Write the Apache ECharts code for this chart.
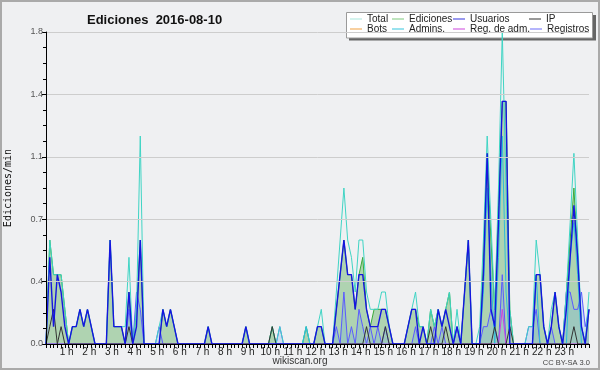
<!DOCTYPE html>
<html><head><meta charset="utf-8">
<script src="https://cdn.jsdelivr.net/npm/echarts@6/dist/echarts.min.js"></script>
<style>html,body{margin:0;padding:0;background:#eff0f2}#c{width:600px;height:370px}</style>
</head><body><div id="c"></div>
<script>
// 10-minute bins, 0 h .. 24 h (145 points)
const total = [
 0,.6,.4,.4,.4,.2,0,.1,.1,.2,.1,.2,
 .1,0,0,0,0,.6,.1,.1,.1,.1,.5,0,
 .2,1.2,0,0,0,0,.1,.2,.1,.2,.1,0,
 0,0,0,0,0,0,0,.1,0,0,0,0,
 0,0,0,0,0,.1,0,0,0,0,0,0,
 .1,0,.1,0,0,0,0,0,0,.1,0,0,
 .1,.2,0,0,0,.3,.6,.9,.6,.5,.3,.6,
 .6,.3,.2,.2,.2,.3,.3,.1,0,0,0,0,
 .1,.2,.3,.1,.1,0,.2,.1,.2,.1,.2,.3,
 0,.2,0,.3,.6,0,0,.1,.6,1.2,.7,.2,
 .9,1.8,.9,.2,0,0,0,0,.1,.1,.6,.4,
 .1,0,.2,.3,.1,0,.3,.7,1.1,.6,.1,0,
 .3];
const ediciones = [
 0,.6,.4,.4,.4,.2,0,.1,.1,.2,.1,.2,
 .1,0,0,0,0,.6,.1,.1,.1,0,.3,0,
 .2,.6,0,0,0,0,0,.2,.1,.2,.1,0,
 0,0,0,0,0,0,0,.1,0,0,0,0,
 0,0,0,0,0,.1,0,0,0,0,0,0,
 .1,0,0,0,0,0,0,0,0,.1,0,0,
 .1,.1,0,0,0,.2,.4,.6,.4,.4,.2,.4,
 .5,.2,.1,.2,.2,.2,.2,.1,0,0,0,0,
 .1,.2,.2,.1,.1,0,.2,.1,.2,.1,.2,.3,
 0,.1,0,.3,.6,0,0,0,.5,1.1,.6,.2,
 .8,1.4,1.4,.2,0,0,0,0,0,0,.4,.4,
 .1,0,.1,.3,.1,0,.3,.6,.9,.5,.1,0,
 .2];
const usuarios = [
 0,.5,.1,.4,.3,.1,0,.1,.1,.2,.1,.2,
 .1,0,0,0,0,.6,.1,.1,.1,0,.3,0,
 .1,.6,0,0,0,0,0,.2,.1,.2,.1,0,
 0,0,0,0,0,0,0,.1,0,0,0,0,
 0,0,0,0,0,.1,0,0,0,0,0,0,
 0,0,0,0,0,0,0,0,0,0,0,0,
 .1,.1,0,0,0,.2,.4,.6,.4,.4,.2,.4,
 .4,.2,.1,.1,.1,.2,.2,.1,0,0,0,0,
 .1,.2,.2,0,.1,0,0,0,.2,.1,.2,.1,
 0,.1,0,.3,.6,0,0,0,.4,1.1,.2,.1,
 .7,1.4,1.4,0,0,0,0,0,0,0,.4,.4,
 .1,0,.1,.3,.1,0,.2,.5,.8,.5,.1,0,
 .2];
const ip = [
 0,.1,.2,0,.1,0,0,0,0,0,0,0,
 0,0,0,0,0,0,0,0,0,0,.1,0,
 0,0,0,0,0,0,0,0,0,0,0,0,
 0,0,0,0,0,0,0,0,0,0,0,0,
 0,0,0,0,0,0,0,0,0,0,0,0,
 .1,0,0,0,0,0,0,0,0,0,0,0,
 0,0,0,0,0,0,0,0,0,0,0,0,
 0,.1,0,0,0,0,.1,0,0,0,0,0,
 0,0,0,0,0,0,.1,0,0,0,.1,0,
 0,0,0,0,0,0,0,0,0,0,0,.1,
 0,0,0,.1,0,0,0,0,0,0,0,0,
 0,0,0,0,0,0,0,0,.1,0,0,0,
 0];
const bots = [];
const admins = [
 0,0,0,0,0,0,0,0,0,0,0,0,
 0,0,0,0,0,0,0,0,0,0,0,0,
 0,0,0,0,0,0,0,0,0,0,0,0,
 0,0,0,0,0,0,0,0,0,0,0,0,
 0,0,0,0,0,0,0,0,0,0,0,0,
 0,0,0,0,0,0,0,0,0,.1,0,0,
 0,0,0,0,0,0,0,0,0,0,0,0,
 0,0,0,0,0,0,0,0,0,0,0,0,
 0,0,0,0,0,0,0,0,0,0,0,0,
 0,0,0,0,0,0,0,0,.3,.9,.4,0,
 .5,1.2,.3,0,0,0,0,0,0,0,.4,0,
 0,0,0,0,0,0,0,.5,.7,.4,0,0,
 0];
const regAdm = [
 0,0,0,0,0,0,0,0,0,0,0,0,
 0,0,0,0,0,0,0,0,0,0,0,0,
 0,0,0,0,0,0,0,0,0,0,0,0,
 0,0,0,0,0,0,0,0,0,0,0,0,
 0,0,0,0,0,0,0,0,0,0,0,0,
 0,0,0,0,0,0,0,0,0,0,0,0,
 0,0,0,0,0,0,0,0,0,0,0,0,
 0,0,0,0,0,0,0,0,0,0,0,0,
 0,0,0,0,0,0,0,0,0,0,0,0,
 0,0,0,0,0,0,0,0,0,0,0,0,
 0,.2,0,0,0,0,0,0,0,0,0,0,
 0,0,0,0,0,0,0,0,0,0,0,0,
 0];
const registros = [
 0,0,0,0,0,0,0,0,0,0,0,0,
 0,0,0,0,0,0,0,0,0,0,.2,0,
 .3,.2,0,0,0,0,.1,0,0,0,0,0,
 0,0,0,0,0,0,0,0,0,0,0,0,
 0,0,0,0,0,0,0,0,0,0,0,0,
 0,0,.1,0,0,0,0,0,0,0,0,0,
 0,0,0,0,0,.1,0,.3,0,.1,0,.2,
 .1,0,.1,0,.1,0,.1,0,0,0,0,0,
 0,0,.1,0,0,0,0,.1,0,.1,0,0,
 0,.1,0,0,0,0,0,0,.1,.1,.2,.1,
 0,.4,0,0,0,0,0,0,.1,.1,.2,0,
 0,0,.1,0,0,0,.3,.3,.2,.2,.3,.1,
 .2];
const yTicks = ['0.0','0.4','0.7','1.1','1.4','1.8'];
const hourSuffix = ' h';
const legendRow1 = ['Total','Ediciones','Usuarios','IP'];
const legendRow2 = ['Bots','Admins.','Reg. de adm.','Registros'];

const chart = echarts.init(document.getElementById('c'), null, {renderer:'canvas'});
const pts = a => a.map((v,i)=>[i/6, v]);
function line(name, arr, color, width, area, z){
  const s = {name, type:'line', data:pts(arr), showSymbol:false, symbol:'none',
    lineStyle:{color, width}, itemStyle:{color}, z, animation:false};
  if (area) s.areaStyle = {color: area, origin:'start'};
  return s;
}
const F = 'Liberation Sans, Arial, sans-serif';
const legendColor = {'Total':'#a8e6dc','Ediciones':'#7cc87c','Usuarios':'#3333dd','IP':'#333333',
  'Bots':'#f0a040','Admins.':'#33c4dc','Reg. de adm.':'#cc44dd','Registros':'#6a6af8'};
const colW = [25,44,59,40];
function legendRow(names, top){
  return {left:350, top, width:300, padding:0, itemGap:0, orient:'horizontal',
    icon:'rect', itemWidth:12, itemHeight:1,
    textStyle:{fontFamily:F, fontSize:10, color:'#222', lineHeight:10, overflow:'none'},
    data: names.map((n,k)=>({name:n, itemStyle:{color:legendColor[n]}, textStyle:{width:colW[k]}}))};
}
chart.setOption({
  backgroundColor:'#eff0f2',
  animation:false,
  title:{text:'Ediciones  2016-08-10', left:82, top:9,
    textStyle:{fontFamily:'Liberation Sans, Arial, sans-serif', fontSize:13, fontWeight:'bold', color:'#111'}},
  legend:[legendRow(legendRow1, 14), legendRow(legendRow2, 24)],
  grid:{left:46, right:11, top:32, bottom:26, outerBoundsMode:'none', containLabel:false},
  xAxis:{type:'value', min:0, max:24, interval:1, z:10,
    axisLine:{show:true, lineStyle:{color:'#000', width:1}},
    axisTick:{show:true, length:4, lineStyle:{color:'#000'}},
    minorTick:{show:true, splitNumber:6, length:4, lineStyle:{color:'#000'}},
    splitLine:{show:false},
    axisLabel:{margin:3, fontFamily:F, fontSize:10, color:'#222', padding:[0,4,0,0],
      formatter:v => (v>0 && v<24) ? v + hourSuffix : ''}
  },
  yAxis:{type:'value', min:0, max:1.8, interval:0.36, z:10,
    name:'Ediciones/min', nameLocation:'middle', nameRotate:90, nameGap:33,
    nameTextStyle:{fontFamily:'DejaVu Sans Mono, monospace', fontSize:10, color:'#111'},
    axisLine:{show:true, lineStyle:{color:'#000', width:1}},
    axisTick:{show:true, length:4, lineStyle:{color:'#000'}},
    minorTick:{show:true, splitNumber:4, length:3, lineStyle:{color:'#000'}},
    splitLine:{show:true, lineStyle:{color:'#cdcdcd', width:1}},
    axisLabel:{margin:3, fontFamily:F, fontSize:9, color:'#555',
      formatter:v => yTicks[Math.round(v/0.36)]}
  },
  graphic:[
    {type:'rect', shape:{x:349, y:15, width:247, height:25.5}, style:{fill:'#666'}, z:1, silent:true},
    {type:'rect', shape:{x:346.5, y:12.5, width:246, height:25.5}, style:{fill:'#fff', stroke:'#9a9a9a', lineWidth:1}, z:2, silent:true},
    {type:'rect', shape:{x:1, y:1, width:598, height:368}, style:{fill:'none', stroke:'#aaaaaa', lineWidth:2}, z:100, silent:true},
    {type:'text', x:300, y:361, style:{text:'wikiscan.org', fontFamily:F, fontSize:10, fill:'#333', align:'center', verticalAlign:'middle'}},
    {type:'text', x:590, y:363, style:{text:'CC BY-SA 3.0', fontFamily:F, fontSize:7.5, fill:'#444', align:'right', verticalAlign:'middle'}}
  ],
  series:[
    line('Ediciones', ediciones, '#3aaa3a', 1, 'rgba(60,160,60,0.5)', 2),
    line('Registros', registros, '#5a5aff', 1, 'rgba(100,165,235,0.33)', 3),
    line('Total', total, '#3fd4c4', 1, null, 4),
    line('Admins.', admins, '#2fbcd8', 1, null, 5),
    line('Bots', bots, '#f0a040', 1, null, 5),
    line('Reg. de adm.', regAdm, '#cc44dd', 1, null, 6),
    line('IP', ip, '#333333', 1, null, 7),
    line('Usuarios', usuarios, '#1515e0', 1.4, null, 8)
  ]
});
</script></body></html>
